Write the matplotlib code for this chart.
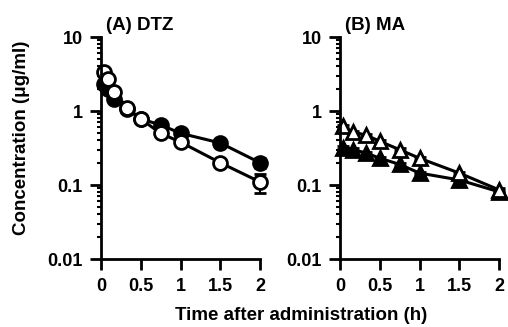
import matplotlib
matplotlib.use("Agg")
import matplotlib.pyplot as plt
from matplotlib.ticker import LogLocator, FixedLocator, NullFormatter

plt.rcParams['font.family'] = ['Liberation Sans', 'DejaVu Sans']
plt.rcParams['font.weight'] = 'bold'
plt.rcParams['font.size'] = 13

# DTZ (panel A)
t_a = [0.033, 0.083, 0.167, 0.333, 0.5, 0.75, 1.0, 1.5, 2.0]
dtz_filled = [2.3, 2.0, 1.45, 1.05, 0.78, 0.65, 0.5, 0.37, 0.2]
dtz_filled_err = [0.1, 0.1, 0.08, 0.05, 0.04, 0.03, 0.03, 0.02, 0.03]
dtz_open = [3.4, 2.7, 1.8, 1.1, 0.78, 0.5, 0.38, 0.2, 0.11]
dtz_open_err = [0.2, 0.15, 0.1, 0.06, 0.04, 0.03, 0.02, 0.015, 0.032]

# MA (panel B)
t_b = [0.033, 0.167, 0.333, 0.5, 0.75, 1.0, 1.5, 2.0]
ma_filled = [0.32, 0.3, 0.27, 0.23, 0.19, 0.145, 0.117, 0.081]
ma_filled_err = [0.015, 0.015, 0.012, 0.01, 0.008, 0.006, 0.005, 0.004]
ma_open = [0.62, 0.52, 0.47, 0.39, 0.3, 0.23, 0.145, 0.086]
ma_open_err = [0.03, 0.025, 0.02, 0.02, 0.015, 0.01, 0.007, 0.005]

xticks = [0, 0.5, 1, 1.5, 2]
xticklabels = ['0', '0.5', '1', '1.5', '2']
yticks = [0.01, 0.1, 1, 10]
yticklabels = ['0.01', '0.1', '1', '10']

fig = plt.figure(figsize=(5.08, 3.27), dpi=100)
W, H = 508, 327


def make_axes(left_px):
    ax = fig.add_axes([left_px / W, 1 - 259 / H, 159 / W, 222 / H])
    ax.set_yscale('log')
    ax.set_xlim(0, 2)
    ax.set_ylim(0.01, 10)
    for s in ['top', 'right']:
        ax.spines[s].set_visible(False)
    for s in ['left', 'bottom']:
        ax.spines[s].set_linewidth(2)
    ax.xaxis.set_major_locator(FixedLocator(xticks))
    ax.set_xticklabels(xticklabels)
    ax.yaxis.set_major_locator(FixedLocator(yticks))
    ax.set_yticklabels(yticklabels)
    ax.yaxis.set_minor_locator(LogLocator(base=10, subs=range(2, 10)))
    ax.yaxis.set_minor_formatter(NullFormatter())
    ax.tick_params(axis='both', which='major', direction='out', length=8, width=2)
    ax.tick_params(axis='y', which='major', pad=5)
    ax.tick_params(axis='x', which='major', pad=6)
    ax.tick_params(axis='y', which='minor', direction='out', length=3, width=1.5)
    return ax


def plot_series(ax, t, y, err, marker, face, size):
    ax.errorbar(t, y, yerr=err, color='black', marker=marker, markersize=size,
                markerfacecolor=face, markeredgecolor='black', markeredgewidth=2,
                linewidth=2.2, elinewidth=1.5, capsize=4, capthick=1.5, clip_on=False)


ax_a = make_axes(101)
plot_series(ax_a, t_a, dtz_filled, dtz_filled_err, 'o', 'black', 10)
plot_series(ax_a, t_a, dtz_open, dtz_open_err, 'o', 'white', 10)

ax_b = make_axes(340)
plot_series(ax_b, t_b, ma_filled, ma_filled_err, '^', 'black', 10)
plot_series(ax_b, t_b, ma_open, ma_open_err, '^', 'white', 10)

fig.text(106 / W, 1 - 25 / H, '(A) DTZ', ha='left', va='center', fontsize=13.5)
fig.text(345 / W, 1 - 25 / H, '(B) MA', ha='left', va='center', fontsize=13.5)
fig.text(22 / W, 1 - 138 / H, 'Concentration (μg/ml)', rotation=90,
         ha='center', va='center', fontsize=13.5)
fig.text(301 / W, 1 - 316 / H, 'Time after administration (h)',
         ha='center', va='center', fontsize=13.5)

fig.savefig('out.png', dpi=100)
